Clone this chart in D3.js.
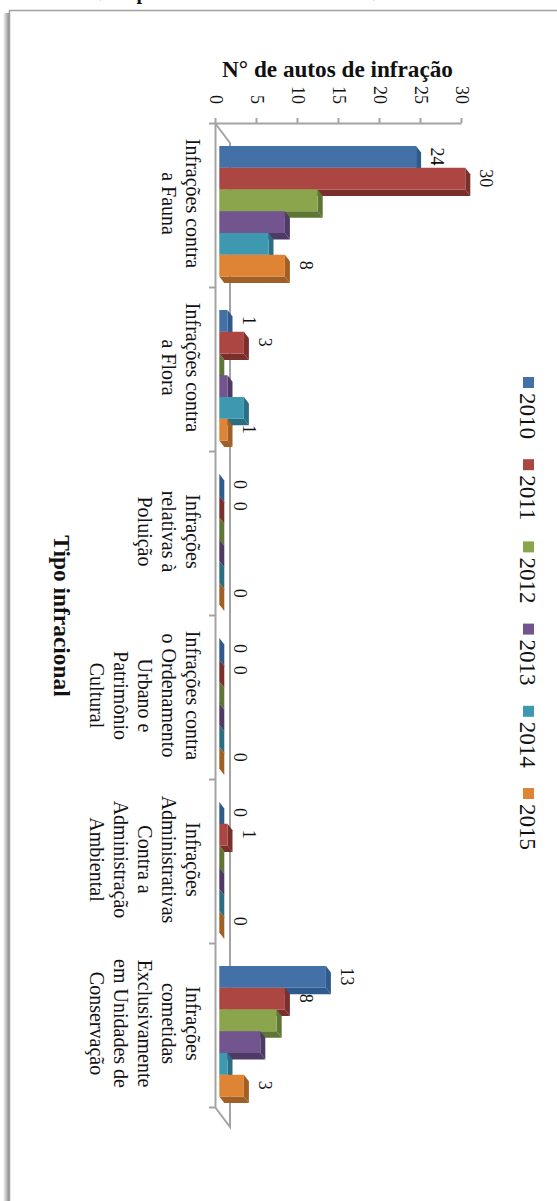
<!DOCTYPE html>
<html>
<head>
<meta charset="utf-8">
<script src="https://cdn.jsdelivr.net/npm/d3@7"></script>
<style>
  body { margin: 0; background: #fff; }
  svg { display: block; }
  text { font-family: "Liberation Serif", serif; fill: #111; }
  .axis path, .axis line { stroke: #a3a3a3; stroke-width: 2; }
</style>
</head>
<body>
<svg></svg>
<script>
var width = 557;
var height = 1201;

var categories = [
  ["Infrações contra", "a Fauna"],
  ["Infrações contra", "a Flora"],
  ["Infrações", "relativas à", "Poluição"],
  ["Infrações contra", "o Ordenamento", "Urbano e", "Patrimônio", "Cultural"],
  ["Infrações", "Administrativas", "Contra a", "Administração", "Ambiental"],
  ["Infrações", "cometidas", "Exclusivamente", "em Unidades de", "Conservação"]
];
var years = ["2010", "2011", "2012", "2013", "2014", "2015"];
var v2010 = [24, 1, 0, 0, 0, 13];
var v2011 = [30, 3, 0, 0, 1, 8];
var v2012 = [12, 0, 0, 0, 0, 7];
var v2013 = [8, 1, 0, 0, 0, 5];
var v2014 = [6, 3, 0, 0, 0, 1];
var v2015 = [8, 1, 0, 0, 0, 3];
var seriesValues = [v2010, v2011, v2012, v2013, v2014, v2015];
var labelledYears = ["2010", "2011", "2015"];
var frontColors = ["#4470a8", "#ac4643", "#8aa54c", "#72548f", "#3e98b0", "#df8435"];
var sideColors = ["#2f5a8c", "#7a2f2d", "#5f7536", "#4f3a66", "#2b6e82", "#a05f25"];

var svg = d3
  .select("svg")
  .attr("width", width)
  .attr("height", height);

// drop shadow on the left of the frame
var grad = svg
  .append("defs")
  .append("linearGradient")
  .attr("id", "shade");
grad.append("stop").attr("offset", "0%").attr("stop-color", "#fff");
grad.append("stop").attr("offset", "100%").attr("stop-color", "#8c8c8c");

svg
  .append("rect")
  .attr("x", 3)
  .attr("y", 13)
  .attr("width", 6)
  .attr("height", height - 13)
  .attr("fill", "url(#shade)");

svg
  .append("path")
  .attr("d", "M9.5," + height + "V10.5H" + width)
  .attr("fill", "none")
  .attr("stroke", "#a0a0a0")
  .attr("stroke-width", 1.5);

// bits of the line of text above the frame
[["(", 98, -4], ["p", 142, -1], [")", 376, -4]].forEach(function(t) {
  svg
    .append("text")
    .attr("x", t[1])
    .attr("y", t[2])
    .attr("text-anchor", "middle")
    .style("font-size", "20px")
    .style("font-weight", "bold")
    .text(t[0]);
});

var xScale = d3
  .scaleLinear()
  .domain([0, 30])
  .range([215, 461]);

var yScale = d3
  .scaleBand()
  .domain(d3.range(categories.length))
  .range([123, 1107]);

var boundaryScale = d3
  .scaleLinear()
  .domain([0, categories.length])
  .range([123, 1107]);

var barScale = d3
  .scaleBand()
  .domain(years)
  .range([23, 153.5]);

var depth = { x: 5, y: 6.5 };
var barInset = 4.3;

// back wall and floor edges
svg
  .append("path")
  .attr("d", "M215,123L230,143V1127L215,1107")
  .attr("fill", "none")
  .attr("stroke", "#a3a3a3")
  .attr("stroke-width", 2);

svg
  .append("g")
  .attr("class", "axis")
  .attr("transform", "translate(0,123)")
  .call(d3.axisTop(xScale).tickValues(d3.range(0, 31, 5)).tickSize(5).tickSizeOuter(0))
  .selectAll("text")
  .attr("x", null)
  .attr("y", null)
  .attr("dy", ".33em")
  .attr("text-anchor", "end")
  .attr("transform", "translate(0,-19) rotate(90)")
  .style("font-family", '"Liberation Serif", serif')
  .style("font-size", "18px");

svg
  .append("g")
  .attr("class", "axis")
  .attr("transform", "translate(215,0)")
  .call(
    d3
      .axisLeft(boundaryScale)
      .tickValues(d3.range(categories.length + 1))
      .tickFormat("")
      .tickSize(6)
      .tickSizeOuter(0)
  );

// bars, drawn so each one sits in front of the previous
function poly(points) {
  return "M" + points.join("L") + "Z";
}

categories.forEach(function(cat, c) {
  years.forEach(function(year, s) {
    var value = seriesValues[s][c];
    var x0 = xScale(0) + barInset;
    var x1 = xScale(value) + barInset;
    var y0 = yScale(c) + barScale(year);
    var y1 = y0 + barScale.bandwidth();
    var g = svg.append("g").attr("class", "bar");

    g.append("path")
      .attr("fill", sideColors[s])
      .attr("d", poly([[x0, y1], [x0 + depth.x, y1 + depth.y], [x1 + depth.x, y1 + depth.y], [x1, y1]]));
    g.append("path")
      .attr("fill", sideColors[s])
      .attr("d", poly([[x1, y0], [x1 + depth.x, y0 + depth.y], [x1 + depth.x, y1 + depth.y], [x1, y1]]));
    g.append("rect")
      .attr("x", x0)
      .attr("y", y0)
      .attr("width", x1 - x0)
      .attr("height", y1 - y0)
      .attr("fill", frontColors[s]);
  });
});

// value labels
categories.forEach(function(cat, c) {
  years.forEach(function(year, s) {
    if (labelledYears.indexOf(year) < 0) return;
    var value = seriesValues[s][c];
    svg
      .append("text")
      .attr("class", "value")
      .attr(
        "transform",
        "translate(" +
          (xScale(value) + barInset + 21) +
          "," +
          (yScale(c) + barScale(year) + barScale.bandwidth() / 2 - 0.5) +
          ") rotate(90)"
      )
      .attr("text-anchor", "middle")
      .attr("dy", ".33em")
      .style("font-size", "18px")
      .text(value);
  });
});

// category labels
var catLabels = svg
  .selectAll(".cat")
  .data(categories)
  .enter()
  .append("text")
  .attr("class", "cat")
  .attr("transform", function(d, i) {
    return "translate(186," + (yScale(i) + yScale.bandwidth() / 2 - 1.5) + ") rotate(90)";
  })
  .attr("text-anchor", "middle")
  .style("font-size", "20px");

catLabels
  .selectAll("tspan")
  .data(d => d)
  .enter()
  .append("tspan")
  .attr("x", 0)
  .attr("y", (d, i) => i * 24)
  .text(d => d);

// axis titles
svg
  .append("text")
  .attr("x", 337.5)
  .attr("y", 77)
  .attr("text-anchor", "middle")
  .style("font-size", "23.2px")
  .style("font-weight", "bold")
  .text("N° de autos de infração");

svg
  .append("text")
  .attr("transform", "translate(54,616) rotate(90)")
  .attr("text-anchor", "middle")
  .style("font-size", "23.4px")
  .style("font-weight", "bold")
  .text("Tipo infracional");

// legend
var legendScale = d3
  .scalePoint()
  .domain(years)
  .range([377, 788]);

var legend = svg
  .selectAll(".legend")
  .data(years)
  .enter()
  .append("g")
  .attr("class", "legend")
  .attr("transform", d => "translate(523," + legendScale(d) + ")");

legend
  .append("rect")
  .attr("width", 11)
  .attr("height", 11)
  .attr("fill", (d, i) => frontColors[i]);

legend
  .append("text")
  .attr("transform", "translate(4.5,16) rotate(90)")
  .attr("dy", ".33em")
  .style("font-size", "23px")
  .text(d => d);
</script>
</body>
</html>
